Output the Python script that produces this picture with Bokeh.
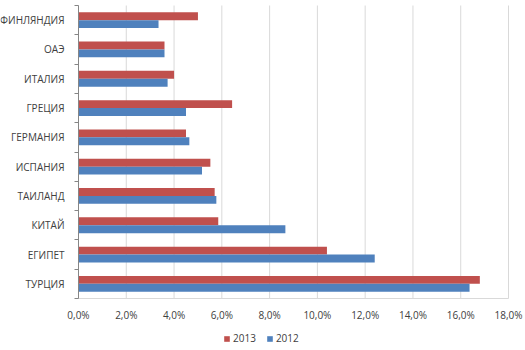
from bokeh.plotting import figure
from bokeh.models import (Range1d, FixedTicker, CustomJSTickFormatter, Legend,
                          LegendItem, ColumnDataSource)
from bokeh.embed import file_html
from bokeh.resources import INLINE

# Data (bottom to top)
countries = ["ТУРЦИЯ", "ЕГИПЕТ", "КИТАЙ", "ТАИЛАНД", "ИСПАНИЯ",
             "ГЕРМАНИЯ", "ГРЕЦИЯ", "ИТАЛИЯ", "ОАЭ", "ФИНЛЯНДИЯ"]
v2013 = [16.8, 10.4, 5.85, 5.7, 5.52, 4.5, 6.43, 4.0, 3.6, 5.0]
v2012 = [16.37, 12.4, 8.66, 5.77, 5.17, 4.64, 4.5, 3.73, 3.6, 3.35]
x_ticks = [0, 2, 4, 6, 8, 10, 12, 14, 16, 18]
series_names = ["2013", "2012"]

FONT = "Open Sans"
C13 = "#C0504D"
C12 = "#4F81BD"

n = len(countries)
xmax = x_ticks[-1]
centers = [i + 0.5 for i in range(n)]
bounds = [float(i) for i in range(n + 1)]

# Layout in pixels: plot area 430 x 293 at (78, 5); rest holds axes + legend.
PX_X = 430.0 / xmax
PX_Y = 293.0 / n
x_range = Range1d(-78.0 / PX_X, xmax + 17.0 / PX_X)
y_range = Range1d(-52.0 / PX_Y, n + 5.0 / PX_Y)

src = ColumnDataSource(dict(
    y13=[c + 0.135 for c in centers],
    y12=[c - 0.135 for c in centers],
    v2013=v2013, v2012=v2012))

p = figure(width=525, height=350, output_backend="svg",
           toolbar_location=None, x_range=x_range, y_range=y_range)
p.min_border = 0
p.min_border_left = 0
p.min_border_right = 0
p.min_border_top = 0
p.min_border_bottom = 0
p.outline_line_color = None
p.background_fill_color = "white"
p.border_fill_color = "white"

# vertical grid lines (only over the bar area)
p.segment(x0=x_ticks, y0=[0] * len(x_ticks), x1=x_ticks, y1=[n] * len(x_ticks),
          line_color="#D9D9D9", line_width=1)

r13 = p.hbar(y="y13", right="v2013", left=0, height=0.27, source=src,
             fill_color=C13, line_color=None)
r12 = p.hbar(y="y12", right="v2012", left=0, height=0.27, source=src,
             fill_color=C12, line_color=None)

# x axis, fixed at y = 0
p.xaxis.fixed_location = 0
p.xaxis.bounds = (0, xmax)
p.xaxis.ticker = FixedTicker(ticks=x_ticks)
p.xaxis.formatter = CustomJSTickFormatter(
    code="return tick.toFixed(1).replace('.', ',') + '%';")
p.xaxis.axis_line_color = "#D9D9D9"
p.xaxis.major_tick_line_color = None
p.xaxis.minor_tick_line_color = None
p.xaxis.major_label_text_font = FONT
p.xaxis.major_label_text_font_size = "10px"
p.xaxis.major_label_text_color = "#404040"
p.xaxis.major_label_standoff = 3

# y axis, fixed at x = 0
p.yaxis.fixed_location = 0
p.yaxis.bounds = (0, n)
p.yaxis.ticker = FixedTicker(ticks=centers, minor_ticks=bounds)
p.yaxis.major_label_overrides = {c: name for c, name in zip(centers, countries)}
p.yaxis.axis_line_color = "#868686"
p.yaxis.major_tick_line_color = None
p.yaxis.minor_tick_line_color = "#868686"
p.yaxis.minor_tick_out = 4
p.yaxis.minor_tick_in = 0
p.yaxis.major_label_text_font = FONT
p.yaxis.major_label_text_font_size = "10px"
p.yaxis.major_label_text_color = "#404040"
p.yaxis.major_label_standoff = 8

p.xgrid.visible = False
p.ygrid.visible = False

legend = Legend(items=[LegendItem(label=series_names[0], renderers=[r13]),
                       LegendItem(label=series_names[1], renderers=[r12])],
                orientation="horizontal", location=(223, 5),
                label_text_font=FONT, label_text_font_size="10px",
                label_text_color="#404040", glyph_width=7, glyph_height=7,
                label_standoff=3, spacing=10, border_line_color=None,
                background_fill_alpha=0,
                padding=2, margin=0, label_height=10)
p.add_layout(legend, "center")

open("out.html", "w").write(file_html(p, INLINE))
